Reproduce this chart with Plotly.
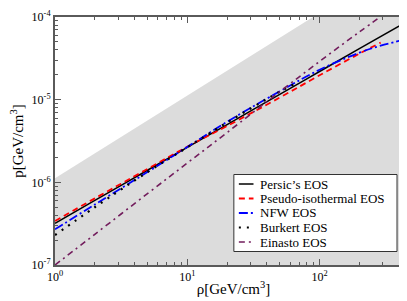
import numpy as np
import plotly.graph_objects as go

# ---- data ----
rho_persic = [1, 2, 5, 10, 20, 50, 100, 200, 500]
p_persic = [3.2e-7, 6.05e-7, 1.40e-6, 2.65e-6, 5.0e-6, 1.16e-5, 2.19e-5, 4.15e-5, 9.5e-5]

rho_piso = [1, 2, 5, 10, 20, 50, 100, 200, 290]
p_piso = [3.4e-7, 6.4e-7, 1.45e-6, 2.7e-6, 4.8e-6, 1.06e-5, 1.97e-5, 3.6e-5, 4.9e-5]

rho_nfw = [1, 2, 5, 10, 20, 50, 100, 200, 290, 500]
p_nfw = [2.7e-7, 5.4e-7, 1.33e-6, 2.68e-6, 5.4e-6, 1.26e-5, 2.3e-5, 3.7e-5, 4.5e-5, 5.6e-5]

rho_burk = [1, 2, 5, 10, 20, 50, 65]
p_burk = [2.3e-7, 5.0e-7, 1.33e-6, 2.65e-6, 5.3e-6, 1.25e-5, 1.55e-5]

rho_ein = [1, 2, 5, 10, 20, 50, 100, 200, 300]
p_ein = [1.0e-7, 2.35e-7, 7.3e-7, 1.71e-6, 4.0e-6, 1.25e-5, 2.9e-5, 6.6e-5, 1.05e-4]

# shaded region: below p = c * rho
rho_band = [1, 500]
p_band_top = [1.12e-6, 5.6e-4]
p_band_bottom = [1e-8, 1e-8]

series_names = ["Persic\u2019s EOS", "Pseudo-isothermal EOS", "NFW EOS", "Burkert EOS", "Einasto EOS"]

x_tickvals = [1, 10, 100]
x_ticktext = ["10<sup>0</sup>", "10<sup>1</sup>", "10<sup>2</sup>"]
y_tickvals = [1e-7, 1e-6, 1e-5, 1e-4]
y_ticktext = ["10<sup>-7</sup>", "10<sup>-6</sup>", "10<sup>-5</sup>", "10<sup>-4</sup>"]

x_minor = [m * 10 ** d for d in range(0, 3) for m in range(2, 10) if m * 10 ** d <= 500]
y_minor = [m * 10.0 ** d for d in (-7, -6, -5) for m in range(2, 10)]

FONT = "Liberation Serif"
AX = "#5a5a5a"

styles = [
    dict(color="black", width=1.5),
    dict(color="#ff0000", width=1.8, dash="6px,4px"),
    dict(color="#0000ff", width=1.8, dash="9px,3px,2px,3px"),
    dict(color="black", width=2.2, dash="2px,6px"),
    dict(color="#721c5c", width=1.6, dash="6px,4px,2px,4px"),
]

fig = go.Figure()
fig.add_trace(go.Scatter(x=rho_band, y=p_band_bottom, mode="lines",
                         line=dict(width=0, color="#dcdcdc"), showlegend=False, hoverinfo="skip"))
fig.add_trace(go.Scatter(x=rho_band, y=p_band_top, mode="lines", fill="tonexty",
                         fillcolor="#dcdcdc", line=dict(width=0, color="#dcdcdc"),
                         showlegend=False, hoverinfo="skip"))

for (xs, ys), name, st in zip(
        [(rho_persic, p_persic), (rho_piso, p_piso), (rho_nfw, p_nfw),
         (rho_burk, p_burk), (rho_ein, p_ein)], series_names, styles):
    fig.add_trace(go.Scatter(x=xs, y=ys, mode="lines", name=name,
                             line=dict(st, shape="spline"), showlegend=False))

# ---- legend box drawn in paper coordinates ----
box = dict(x0=0.501, x1=0.958, y0=0.0544, y1=0.3649)
fig.add_shape(type="rect", xref="paper", yref="paper", **box,
              fillcolor="white", line=dict(color="#333333", width=1), layer="above")
row_y = [0.3266, 0.2681, 0.2097, 0.1512, 0.0927]
for yy, name, st in zip(row_y, series_names, styles):
    fig.add_shape(type="line", xref="paper", yref="paper", x0=0.515, x1=0.556, y0=yy, y1=yy,
                  line=dict(color=st["color"], width=st["width"], dash=st.get("dash", "solid")),
                  layer="above")
    fig.add_annotation(xref="paper", yref="paper", x=0.572, y=yy, text=name, showarrow=False,
                       xanchor="left", yanchor="middle", borderpad=0,
                       font=dict(family=FONT, size=13, color="black"))

axis_common = dict(
    type="log", showgrid=False, zeroline=False,
    showline=True, linecolor=AX, linewidth=2, mirror="ticks",
    ticks="inside", ticklen=6, tickwidth=1, tickcolor=AX,
    tickfont=dict(family=FONT, size=12, color="black"),
    tickmode="array",
)

fig.update_layout(
    width=407, height=301,
    margin=dict(l=47, r=1, t=9, b=44),
    paper_bgcolor="white", plot_bgcolor="white",
    font=dict(family=FONT, color="black"),
    xaxis=dict(axis_common, range=[0, np.log10(500)], tickvals=x_tickvals, ticktext=x_ticktext,
               minor=dict(ticks="inside", ticklen=3, tickcolor=AX, tickmode="array", tickvals=x_minor),
               title=dict(text="\u03c1[GeV/cm<sup>3</sup>]", font=dict(family=FONT, size=15), standoff=0)),
    yaxis=dict(axis_common, range=[-7, -4], tickvals=y_tickvals, ticktext=y_ticktext,
               minor=dict(ticks="inside", ticklen=3, tickcolor=AX, tickmode="array", tickvals=y_minor),
               title=dict(text="p[GeV/cm<sup>3</sup>]", font=dict(family=FONT, size=15), standoff=4)),
    showlegend=False,
)

fig.write_html("out.html")
